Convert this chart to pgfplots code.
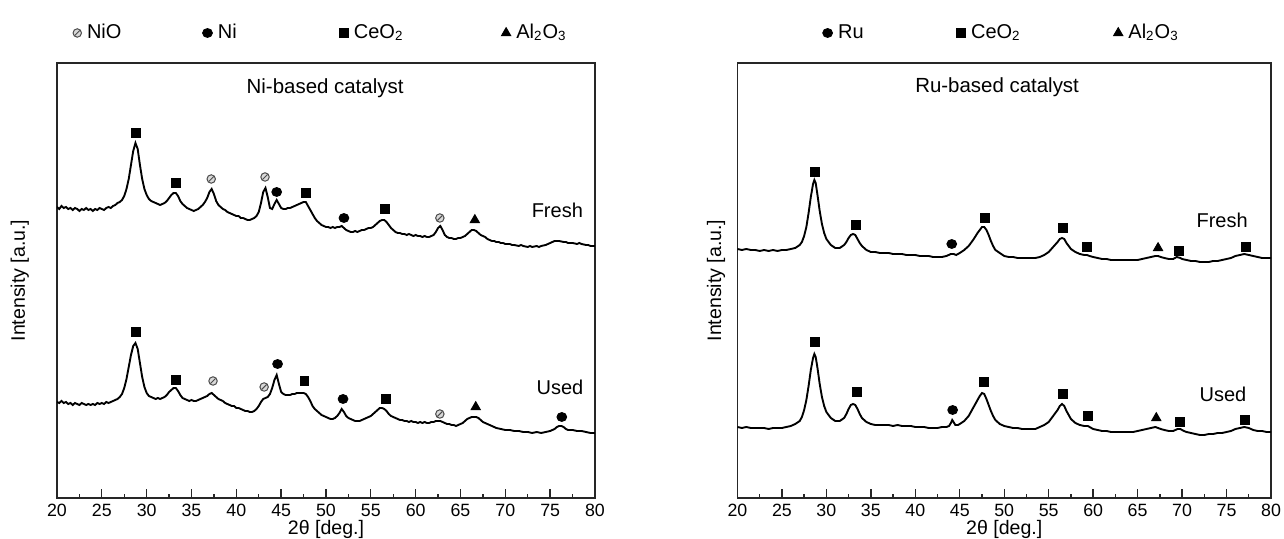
\documentclass[border=0pt]{standalone}
\usepackage{fontspec}
\setmainfont{Liberation Sans}
\usepackage{pgfplots}
\pgfplotsset{compat=1.18}

% hatched circle used for NiO
\pgfdeclareplotmark{nio}{%
  \pgfpathcircle{\pgfpointorigin}{\pgfplotmarksize}%
  \pgfusepathqfillstroke
  \pgfpathmoveto{\pgfpoint{-0.6\pgfplotmarksize}{-0.6\pgfplotmarksize}}%
  \pgfpathlineto{\pgfpoint{0.6\pgfplotmarksize}{0.6\pgfplotmarksize}}%
  \pgfusepathqstroke
}

\pgfplotsset{
  xrd/.style={
    scale only axis, height=195.75pt,
    xmin=20, xmax=80, ymin=3, ymax=438,
    xtick={20,25,...,80}, minor x tick num=1,
    xtick pos=left, ytick=\empty,
    tick align=inside, major tick length=4pt, minor tick length=2pt,
    axis line style={line width=0.6pt, black!85},
    every tick/.style={black!85, line width=0.6pt},
    tick label style={font=\fontsize{8}{9}\selectfont},
    /pgf/number format/assume math mode=true,
    xticklabel style={anchor=base, yshift=-8.4pt},
    xlabel={2θ [deg.]},
    ylabel={Intensity [a.u.]},
    label style={font=\fontsize{8.8}{10}\selectfont},
    xlabel style={at={(axis description cs:0.5,0)}, anchor=base, yshift=-16.4pt},
    legend style={draw=none, fill=none, anchor=west, legend columns=-1,
      font=\fontsize{9}{10}\selectfont, inner sep=0pt, nodes={inner sep=1pt},
      /tikz/every odd column/.append style={column sep=1.5pt}},
    legend image code/.code={\draw[#1] plot coordinates {(0pt,0pt)};},
  },
  curve/.style={black, line width=0.85pt, forget plot},
  ceo2/.style={only marks, mark=square*, mark size=2pt, black},
  metal/.style={only marks, mark=*, mark size=2pt, mark options={xscale=1.1}, black},
  alumina/.style={only marks, mark=triangle*, mark size=2.4pt, black},
  nioxide/.style={only marks, mark=nio, mark size=1.9pt, mark options={draw=black!70, fill=gray!30, line width=0.45pt}},
}

\begin{document}
\begin{tikzpicture}
\path[use as bounding box] (-25.65pt,-18.45pt) rectangle (552.15pt,224.1pt);

% ---------------- Ni-based catalyst ----------------
\begin{axis}[xrd, width=242.1pt,
  ylabel style={at={(axis description cs:-0.069,0.5)}, anchor=center},
  legend style={at={(axis description cs:0.029,1)}, yshift=13.5pt},
]
% Fresh
\addplot[curve] coordinates {
(20,294) (20.25,292) (20.5,295) (20.75,293) (21,294) (21.25,292) (21.5,293) (21.75,291)
(22,293) (22.25,292) (22.5,290) (22.75,292) (23,291) (23.25,293) (23.5,291) (23.75,292)
(24,290) (24.25,292) (24.5,291) (24.75,293) (25,292) (25.25,291) (25.5,293) (25.75,294)
(26,293) (26.25,295) (26.5,296) (26.75,298) (27,299) (27.25,301) (27.5,305) (27.75,312)
(28,322) (28.25,336) (28.5,350) (28.75,358) (29,352) (29.25,336) (29.5,322) (29.75,312)
(30,306) (30.25,302) (30.5,300) (30.75,299) (31,298) (31.25,297) (31.5,296) (31.75,297)
(32,298) (32.25,300) (32.5,303) (32.75,306) (33,308) (33.25,308) (33.5,305) (33.75,300)
(34,297) (34.25,295) (34.5,293) (34.75,292) (35,291) (35.25,290) (35.5,291) (35.75,292)
(36,294) (36.25,296) (36.5,299) (36.75,303) (37,309) (37.25,312) (37.5,307) (37.75,300)
(38,296) (38.25,294) (38.5,292) (38.75,291) (39,289) (39.25,288) (39.5,287) (39.75,286)
(40,285) (40.25,285) (40.5,283) (40.75,283) (41,282) (41.25,281) (41.5,281) (41.75,282)
(42,283) (42.25,285) (42.5,289) (42.75,298) (43,309) (43.25,313) (43.5,304) (43.75,293)
(44,292) (44.25,297) (44.5,301) (44.75,297) (45,293) (45.25,292) (45.5,292) (45.75,293)
(46,293) (46.25,294) (46.5,295) (46.75,296) (47,297) (47.25,298) (47.5,299) (47.75,299)
(48,295) (48.25,291) (48.5,287) (48.75,283) (49,280) (49.25,278) (49.5,276) (49.75,275)
(50,274) (50.25,274) (50.5,273) (50.75,274) (51,273) (51.25,274) (51.5,274) (51.75,275)
(52,273) (52.25,271) (52.5,270) (52.75,269) (53,269) (53.25,270) (53.5,269) (53.75,270)
(54,271) (54.25,271) (54.5,272) (54.75,273) (55,273) (55.25,274) (55.5,276) (55.75,278)
(56,280) (56.25,281) (56.5,281) (56.75,279) (57,276) (57.25,273) (57.5,271) (57.75,269)
(58,268) (58.25,268) (58.5,267) (58.75,267) (59,266) (59.25,267) (59.5,266) (59.75,265)
(60,266) (60.25,265) (60.5,265) (60.75,264) (61,265) (61.25,264) (61.5,264) (61.75,265)
(62,266) (62.25,269) (62.5,273) (62.75,275) (63,271) (63.25,266) (63.5,264) (63.75,263)
(64,263) (64.25,262) (64.5,262) (64.75,263) (65,263) (65.25,264) (65.5,265) (65.75,267)
(66,269) (66.25,271) (66.5,271) (66.75,270) (67,268) (67.25,266) (67.5,265) (67.75,264)
(68,262) (68.25,261) (68.5,260) (68.75,260) (69,259) (69.25,259) (69.5,258) (69.75,258)
(70,257) (70.5,257) (70.75,256) (71,256) (71.5,255) (71.75,256) (72,255) (72.5,254)
(72.75,255) (73,254) (73.5,255) (73.75,254) (74,255) (74.5,256) (75,258) (75.25,259)
(75.5,260) (75.75,260) (76,260) (76.5,259) (76.75,259) (77,258) (77.5,258) (78,257)
(78.25,258) (78.5,257) (79,256) (79.25,256) (79.5,255) (80,255)
};
% Used
\addplot[curve] coordinates {
(20,99) (20.25,98) (20.5,100) (20.75,98) (21,99) (21.25,97) (21.5,98) (21.75,96)
(22,98) (22.25,97) (22.5,96) (22.75,98) (23,97) (23.25,96) (23.5,97) (23.75,96)
(24,97) (24.25,96) (24.5,98) (24.75,97) (25,98) (25.25,97) (25.5,99) (25.75,98)
(26,99) (26.25,100) (26.5,101) (26.75,102) (27,104) (27.25,107) (27.5,113) (27.75,122)
(28,134) (28.25,146) (28.5,155) (28.75,158) (29,152) (29.25,138) (29.5,124) (29.75,114)
(30,108) (30.25,105) (30.5,104) (30.75,103) (31,102) (31.25,103) (31.5,102) (31.75,103)
(32,104) (32.25,106) (32.5,109) (32.75,111) (33,113) (33.25,113) (33.5,110) (33.75,106)
(34,103) (34.25,102) (34.5,101) (34.75,100) (35,101) (35.25,100) (35.5,100) (35.75,101)
(36,102) (36.25,103) (36.5,104) (36.75,105) (37,107) (37.25,108) (37.5,106) (37.75,104)
(38,102) (38.25,101) (38.5,100) (38.75,98) (39,97) (39.25,96) (39.5,95) (39.75,95)
(40,93) (40.25,93) (40.5,92) (40.75,91) (41,90) (41.25,90) (41.5,89) (41.75,89)
(42,90) (42.25,92) (42.5,95) (42.75,99) (43,102) (43.25,103) (43.5,104) (43.75,107)
(44,113) (44.25,121) (44.5,126) (44.75,117) (45,109) (45.25,107) (45.5,106) (45.75,106)
(46,106) (46.25,107) (46.5,107) (46.75,108) (47,108) (47.25,108) (47.5,108) (47.75,107)
(48,104) (48.25,100) (48.5,95) (48.75,92) (49,90) (49.25,88) (49.5,86) (49.75,85)
(50,84) (50.25,83) (50.5,82) (50.75,82) (51,83) (51.25,85) (51.5,88) (51.75,92)
(52,89) (52.25,85) (52.5,83) (52.75,82) (53,81) (53.25,80) (53.5,80) (53.75,80)
(54,81) (54.25,82) (54.5,83) (54.75,84) (55,85) (55.25,87) (55.5,89) (55.75,91)
(56,93) (56.25,93) (56.5,92) (56.75,90) (57,87) (57.25,85) (57.5,84) (57.75,83)
(58,82) (58.25,81) (58.5,81) (58.75,80) (59,80) (59.25,79) (59.5,80) (59.75,79)
(60,79) (60.25,78) (60.5,79) (60.75,78) (61,79) (61.25,78) (61.5,78) (61.75,79)
(62,79) (62.25,80) (62.5,80) (62.75,80) (63,79) (63.25,78) (63.5,77) (63.75,77)
(64,76) (64.25,76) (64.5,75) (64.75,76) (65,77) (65.25,78) (65.5,80) (65.75,82)
(66,83) (66.25,84) (66.5,84) (66.75,84) (67,83) (67.25,81) (67.5,79) (67.75,78)
(68,77) (68.25,76) (68.5,75) (68.75,74) (69,73) (69.5,72) (70,71) (70.5,71)
(71,70) (71.5,70) (72,69) (72.5,69) (73,68) (73.5,69) (74,68) (74.5,69)
(75,70) (75.25,71) (75.5,72) (75.75,74) (76,75) (76.25,75) (76.5,74) (76.75,72)
(77,71) (77.5,71) (78,70) (78.5,70) (79,69) (79.5,68) (80,68)
};
\addplot[nioxide] coordinates {(37.2,322) (43.2,324) (62.7,283) (37.4,120) (43.1,114) (62.7,87)};
\addlegendentry{\makebox[51pt][l]{NiO}}
\addplot[metal] coordinates {(44.5,309) (52.0,283) (44.6,137) (51.9,102) (76.3,84)};
\addlegendentry{\makebox[53.7pt][l]{Ni}}
\addplot[ceo2] coordinates {(28.8,368) (33.3,318) (47.8,308) (56.6,292) (28.8,169) (33.3,121) (47.6,120) (56.7,102)};
\addlegendentry{\makebox[65.4pt][l]{CeO\textsubscript{2}}}
\addplot[alumina] coordinates {(66.6,281) (66.7,94)};
\addlegendentry{Al\textsubscript{2}O\textsubscript{3}}
\node[font=\fontsize{9.2}{11}\selectfont] at (axis cs:49.9,413) {Ni-based catalyst};
\node[font=\fontsize{9}{10}\selectfont] at (axis cs:75.8,291) {Fresh};
\node[font=\fontsize{9}{10}\selectfont] at (axis cs:76.1,114) {Used};
\end{axis}

% ---------------- Ru-based catalyst ----------------
\begin{axis}[xrd, width=240.1pt, at={(306.2pt,0pt)},
  ylabel style={at={(axis description cs:-0.040,0.5)}, anchor=center},
  legend style={at={(axis description cs:0.159,1)}, yshift=13.5pt},
]
% Fresh
\addplot[curve] coordinates {
(20,252) (20.5,251) (21,252) (21.5,251) (22,251) (22.5,250) (23,251) (23.5,250)
(24,251) (24.5,250) (25,251) (25.5,251) (26,252) (26.5,253) (27,256) (27.25,259)
(27.5,265) (27.75,274) (28,288) (28.25,304) (28.5,317) (28.65,321) (28.8,318) (29,306)
(29.25,290) (29.5,277) (29.75,268) (30,262) (30.5,256) (31,253) (31.5,253) (32,256)
(32.25,259) (32.5,263) (32.75,266) (33,267) (33.25,266) (33.5,262) (33.75,258) (34,255)
(34.5,251) (35,249) (35.5,249) (36,248) (36.5,248) (37,248) (37.5,247) (38,247)
(38.5,247) (39,246) (39.5,246) (40,246) (40.5,245) (41,245) (41.5,245) (42,244)
(42.5,244) (43,244) (43.5,245) (44,247) (44.3,247) (44.6,246) (45,248) (45.5,251)
(46,255) (46.5,261) (47,268) (47.25,271) (47.5,274) (47.75,274) (48,271) (48.25,266)
(48.5,260) (48.75,255) (49,251) (49.5,248) (50,245) (50.5,244) (51,244) (51.5,243)
(52,243) (52.5,243) (53,243) (53.5,243) (54,244) (54.5,246) (55,249) (55.5,254)
(56,259) (56.25,262) (56.5,263) (56.75,262) (57,258) (57.5,252) (58,249) (58.5,247)
(59,246) (59.3,246) (59.6,245) (60,244) (60.5,243) (61,242) (61.5,242) (62,241)
(62.5,241) (63,241) (63.5,241) (64,241) (64.5,241) (65,241) (65.5,242) (66,243)
(66.5,244) (67,245) (67.3,245) (67.6,244) (68,243) (68.5,242) (69,242) (69.4,244)
(69.8,243) (70,242) (70.5,241) (71,240) (71.5,240) (72,239) (72.5,239) (73,239)
(73.5,240) (74,240) (74.5,241) (75,242) (75.5,243) (76,245) (76.5,246) (77,247)
(77.5,246) (78,245) (78.5,244) (79,243) (79.5,243) (80,243)
};
% Used
\addplot[curve] coordinates {
(20,74) (20.5,73) (21,74) (21.5,73) (22,73) (22.5,73) (23,73) (23.5,72)
(24,73) (24.5,73) (25,73) (25.5,74) (26,75) (26.5,77) (27,80) (27.25,84)
(27.5,91) (27.75,101) (28,115) (28.25,131) (28.5,143) (28.65,147) (28.8,144) (29,133)
(29.25,117) (29.5,104) (29.75,95) (30,89) (30.5,83) (31,80) (31.5,80) (32,83)
(32.25,87) (32.5,92) (32.75,96) (33,97) (33.25,96) (33.5,92) (33.75,87) (34,83)
(34.5,79) (35,77) (35.5,76) (36,76) (36.5,76) (37,76) (37.5,75) (38,76)
(38.5,75) (39,75) (39.5,75) (40,74) (40.5,74) (41,74) (41.5,73) (42,73)
(42.5,73) (43,74) (43.5,74) (43.8,75) (44,78) (44.15,81) (44.3,79) (44.5,76)
(44.8,76) (45,77) (45.5,80) (46,85) (46.5,93) (47,101) (47.25,105) (47.5,108)
(47.75,107) (48,102) (48.25,96) (48.5,90) (48.75,85) (49,81) (49.5,77) (50,75)
(50.5,74) (51,73) (51.5,73) (52,72) (52.5,72) (53,72) (53.5,72) (54,74)
(54.5,76) (55,79) (55.5,85) (56,91) (56.25,95) (56.5,97) (56.75,95) (57,90)
(57.5,82) (58,78) (58.5,76) (59,75) (59.4,75) (59.8,73) (60,72) (60.5,71)
(61,70) (61.5,70) (62,69) (62.5,69) (63,69) (63.5,69) (64,69) (64.5,69)
(65,70) (65.5,71) (66,72) (66.5,73) (67,74) (67.3,73) (67.6,72) (68,71)
(68.5,70) (69,70) (69.5,72) (69.8,72) (70.2,70) (70.5,69) (71,68) (71.5,67)
(72,66) (72.5,66) (73,67) (73.5,67) (74,68) (74.5,68) (75,69) (75.5,70)
(76,72) (76.5,73) (77,74) (77.5,73) (78,71) (78.5,70) (79,70) (79.5,69) (80,69)
};
\addplot[metal] coordinates {(44.1,257) (44.2,91)};
\addlegendentry{\makebox[52.35pt][l]{Ru}}
\addplot[ceo2] coordinates {(28.7,329) (33.3,276) (47.8,283) (56.6,273) (59.3,254) (69.6,250) (77.2,254)
  (28.7,159) (33.4,109) (47.7,119) (56.6,107) (59.4,85) (69.8,79) (77.1,81)};
\addlegendentry{\makebox[63.15pt][l]{CeO\textsubscript{2}}}
\addplot[alumina] coordinates {(67.3,253) (67.1,83)};
\addlegendentry{Al\textsubscript{2}O\textsubscript{3}}
\node[font=\fontsize{9.2}{11}\selectfont] at (axis cs:49.2,414) {Ru-based catalyst};
\node[font=\fontsize{9}{10}\selectfont] at (axis cs:74.5,281) {Fresh};
\node[font=\fontsize{9}{10}\selectfont] at (axis cs:74.6,107) {Used};
\end{axis}
\end{tikzpicture}
\end{document}
